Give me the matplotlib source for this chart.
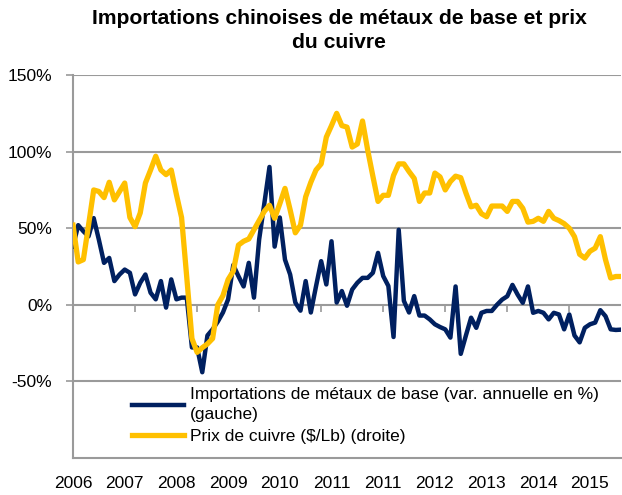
import matplotlib
matplotlib.use('Agg')
import matplotlib.pyplot as plt
from matplotlib.lines import Line2D
import numpy as np

# monthly data (index 0 = first month of the series)
imports_pct = [38, 52, 48, 44.7, 56.6, 42.5, 27.4, 30.6, 15.5, 19.8,
               23, 20.9, 6.8, 14.4, 19.8, 7.9, 3.6, 15.5, -1.8, 16.6,
               3.6, 4.7, 4.7, -27.8, -27.8, -44, -20, -16, -11, -5,
               3.6, 26, 18.7, 12, 27.4, 4.7, 42.6, 66, 90, 38,
               57, 29.5, 19.8, 1.5, -3.8, 15.5, -5, 12, 28.5, 13.3,
               41.5, 1.5, 9, -0.6, 10, 14.4, 17.6, 17.6, 20.9, 33.9,
               18.8, 12.3, -21, 49, 2.6, -5, 5.7, -7, -7, -9.5,
               -12.7, -14.5, -16, -21.4, 12, -32, -20, -8.4, -15, -5.2,
               -4, -4, 0, 3.4, 5.6, 13, 6.7, 1.3, 12, -5.2,
               -4, -5.2, -9.5, -5.2, -6.3, -16, -6.3, -20, -24.5, -15,
               -12.7, -11.6, -3.5, -7.4, -16, -16.4, -16.2]

copper_usd_lb = [3.04, 2.56, 2.59, 3.04, 3.50, 3.48, 3.40, 3.60, 3.37, 3.48,
                 3.59, 3.14, 3.02, 3.20, 3.59, 3.76, 3.94, 3.76, 3.70, 3.76,
                 3.44, 3.14, 2.36, 1.56, 1.38, 1.44, 1.49, 1.56, 2.00, 2.12,
                 2.33, 2.44, 2.78, 2.83, 2.86, 2.98, 3.10, 3.22, 3.30, 3.13,
                 3.32, 3.52, 3.24, 2.94, 3.04, 3.41, 3.60, 3.76, 3.84, 4.19,
                 4.34, 4.50, 4.34, 4.32, 4.06, 4.10, 4.40, 4.02, 3.68, 3.35,
                 3.43, 3.43, 3.69, 3.84, 3.84, 3.74, 3.65, 3.35, 3.46, 3.46,
                 3.72, 3.67, 3.50, 3.61, 3.68, 3.66, 3.46, 3.28, 3.30, 3.19,
                 3.15, 3.29, 3.29, 3.29, 3.22, 3.35, 3.35, 3.26, 3.08, 3.09,
                 3.13, 3.09, 3.22, 3.13, 3.10, 3.06, 3.00, 2.89, 2.66, 2.61,
                 2.70, 2.74, 2.89, 2.59, 2.35, 2.37, 2.37]

year_labels = ['2006', '2007', '2008', '2009', '2010', '2011', '2011',
               '2012', '2013', '2014', '2015']
left_ticks = [-50, 0, 50, 100, 150]

NAVY = '#002060'
GOLD = '#FFC000'
GRID = '#9a9a9a'

plt.rcParams['font.family'] = ['Liberation Sans', 'DejaVu Sans']

fig = plt.figure(figsize=(6.22, 4.95), dpi=100)
ax = fig.add_axes([0.1174, 0.0747, 0.881, 0.7737])
ax2 = ax.twinx()

x = np.arange(len(imports_pct))
ax.plot(x, imports_pct, color=NAVY, lw=3.2, solid_joinstyle='round', zorder=3)
ax2.plot(x, copper_usd_lb, color=GOLD, lw=3.8, solid_joinstyle='round')

ax.set_xlim(0, len(x) - 1)
ax.set_ylim(-100, 150)
ax2.set_ylim(0, 5)

# left axis
ax.set_yticks(left_ticks)
ax.set_yticklabels([f'{v}%' for v in left_ticks], fontsize=12.5)
ax.tick_params(axis='y', length=5, width=1.2, color=GRID, pad=10)
ax.yaxis.grid(True, color=GRID, lw=1.5)
ax.set_axisbelow(True)

# bottom labels (every 10 months)
ax.set_xticks(np.arange(0, len(x), 10))
ax.set_xticklabels(year_labels, fontsize=12.5)
ax.tick_params(axis='x', length=0, pad=13)

# tick marks every 12 months on the 0% line
sec = ax.secondary_xaxis(0.4)
sec.set_xticks(np.arange(0, len(x), 12))
sec.set_xticklabels([])
sec.tick_params(axis='x', length=5, width=1.2, color=GRID)
sec.spines['bottom'].set_visible(False)

for s in ['top', 'right']:
    ax.spines[s].set_visible(False)
ax.spines['left'].set_color(GRID)
ax.spines['left'].set_linewidth(1.5)
ax.spines['bottom'].set_color(GRID)
ax.spines['bottom'].set_linewidth(1.5)

ax2.set_yticks([])
for s in ax2.spines.values():
    s.set_visible(False)

fig.text(0.545, 0.982,
         'Importations chinoises de métaux de base et prix\ndu cuivre',
         ha='center', va='top', fontsize=15.2, fontweight='bold', linespacing=1.35)

handles = [Line2D([], [], color=NAVY, lw=3.2),
           Line2D([], [], color=GOLD, lw=3.8)]
labels = ['Importations de métaux de base (var. annuelle en %)\n(gauche)',
          'Prix de cuivre ($/Lb) (droite)']
leg = ax2.legend(handles, labels, loc='upper left', bbox_to_anchor=(0.105, 0.19),
                 fontsize=12.5, frameon=True, facecolor='white', edgecolor='none',
                 framealpha=1, handlelength=3.0, handletextpad=0.3,
                 borderpad=0.1, labelspacing=0.35, borderaxespad=0, fancybox=False)
for t in leg.get_texts():
    t.set_linespacing(1.45)

fig.savefig('out.png', dpi=100)
